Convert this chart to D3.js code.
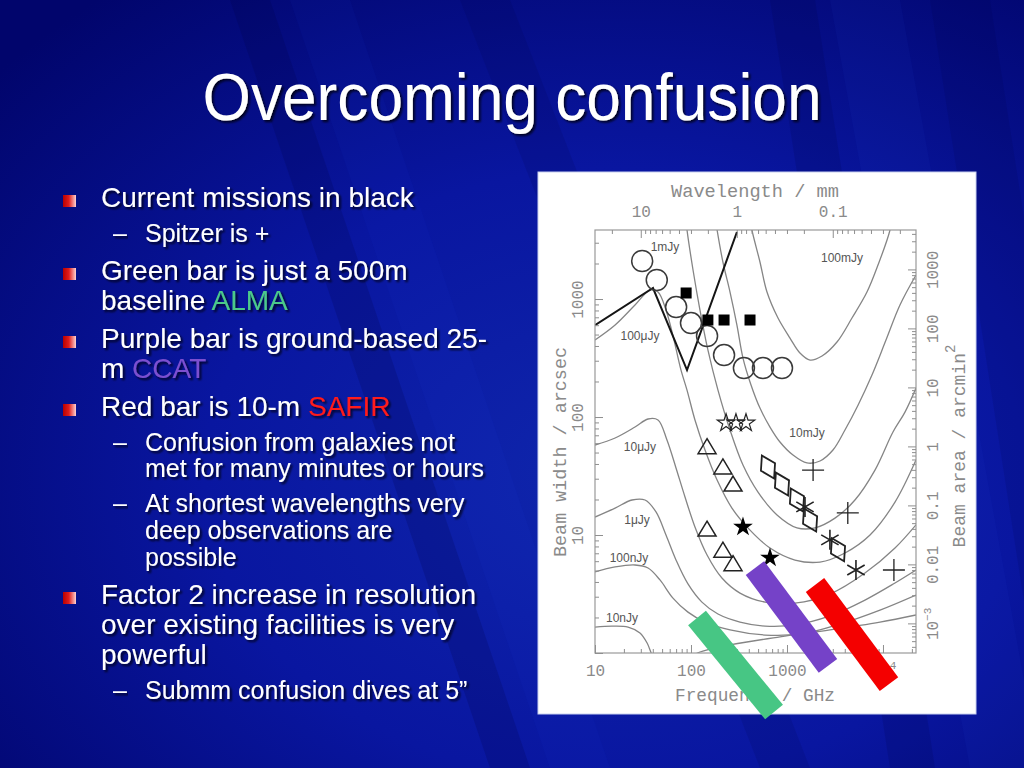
<!DOCTYPE html>
<html>
<head>
<meta charset="utf-8">
<title>Overcoming confusion</title>
<script src="https://cdn.jsdelivr.net/npm/d3@7"></script>
<style>
  body { margin: 0; background: #02086e; }
  svg { display: block; }
</style>
</head>
<body>
<svg id="slide" width="1024" height="768"></svg>
<script>
// confusion contours, traced as [frequency / GHz, beam width / arcsec]
const levels = ['100mJy', '10mJy', '1mJy', '100\u03bcJy', '10\u03bcJy', '1\u03bcJy', '100nJy', '10nJy'];
const c100mJy = [[392,5680],[431,3846],[523,2060],[619,1146],[806,690],[1075,467],[1365,349],[1738,304],[2317,329],[3318,432],[4753,690],[6810,1146],[8872,1941],[11830,3846],[12710,5680]];
const c10mJy = [[174,5680],[187,3846],[215,2060],[255,1146],[301,602],[348,316],[422,187],[523,119],[665,82.2],[845,61.4],[1155,47.6],[1615,40.8],[2207,42.4],[3013,52.5],[4018,77.6],[5495,126],[7680,227],[10750,449],[15030,889],[22080,1597]];
const c1mJy = [[86.6,5680],[90.9,3846],[105,1762],[124,807],[150,370],[191,169],[255,77.6],[348,39.2],[499,23.1],[787,14.8],[1271,11.5],[1958,11.5],[3162,13.9],[5104,19.8],[8254,35.5],[12710,74.6],[16950,110],[22080,176]];
const c100uJy = [[10,449],[16.2,602],[26.1,889],[37.4,1192],[45.3,1146],[54.9,807],[66.5,449],[78.7,250],[90.9,169],[110,94.4],[140,52.5],[187,29.2],[267,16.9],[412,11],[665,7.76],[1211,6.14],[2207,5.9],[4018,7.04],[7328,10],[13340,19],[22080,43.2]];
const c10uJy = [[10,57.9],[16.2,66.4],[26.1,82.2],[35.7,96.2],[45.3,94.4],[56.2,63.8],[69.8,37],[86.6,21],[110,11.7],[147,6.77],[210,4.32],[324,3.22],[590,2.7],[1211,2.65],[2805,3.16],[6494,4.76],[13340,7.76],[22080,12.2]];
const c1uJy = [[10,14.2],[16.2,16.9],[24.3,19.8],[33.2,19.8],[43.2,15.7],[54.9,10],[69.8,6.14],[93,3.85],[130,2.7],[191,2.14],[324,1.83],[590,1.69],[1211,1.73],[2805,2.06],[6494,2.81],[13340,3.92],[22080,5.05]];
const c100nJy = [[10,4.86],[16.2,5.36],[26.1,5.57],[35.7,5.25],[47.5,4.16],[64.9,2.92],[93,2.22],[140,1.83],[255,1.57],[590,1.42],[1365,1.45],[3565,1.76],[9311,2.31],[22080,3.1]];
const c10nJy = [[10,1.66],[15,1.69],[22.1,1.66],[29.4,1.48],[34.8,1.22],[39.3,0.96],[47.5,0.69],[68.1,0.59],[97.7,0.91],[124,1.02],[255,1.17],[845,1.37],[2805,1.57],[9311,1.83],[22080,2.1]];
const contours = [c100mJy, c10mJy, c1mJy, c100uJy, c10uJy, c1uJy, c100nJy, c10nJy];
const levelLabelAt = [[3741,2225],[1615,73.2],[53.6,2760],[29.4,486],[29.4,55.7],[27.4,13.4],[22.6,6.38],[19.1,1.98]];

// facilities
const bolometerLine = [[10,600],[40.2,1240],[90.9,250],[301,3700]];
const openCircles = [[31,2100],[44,1450],[70,855],[100,626],[147,486],[221,335],[356,260],[562,260],[887,260]];
const filledSquares = [[89,1125],[150,664],[221,664],[412,664]];
const openStars = [[232,89],[294,89],[374,89]];
const filledStars = [[348,11.7],[665,6.4]];
const openTriangles = [[147,55],[215,37],[274,26.5],[147,11],[215,7.3],[274,5.6]];
const openDiamonds = [[634,37.7],[887,27],[1270,19.8],[1740,13.4],[3400,7.5]];
const asterisks = [[1540,17.3],[2800,9.1],[5230,5.05]];
const spitzerPlus = [[1870,35.5],[4300,15.4],[13000,5.05]];

// future facilities as bars: [start, end]
const almaBar = [[115.5,1.98],[733,0.316]];
const ccatBar = [[464,5.25],[2673,0.776]];
const safirBar = [[1958,3.77],[11550,0.546]];

// axis ticks
const freqMajor = [10, 100, 1000, 10000];
const freqLabels = ['10', '100', '1000', '10^4'];
const waveMajor = [10, 1, 0.1];
const waveLabels = ['10', '1', '0.1'];
const beamMajor = [1, 10, 100, 1000];
const beamLabels = ['', '10', '100', '1000'];
const areaMajor = [0.001, 0.01, 0.1, 1, 10, 100, 1000];
const areaLabels = ['10^\u22123', '0.01', '0.1', '1', '10', '100', '1000'];

// slide text
const title = 'Overcoming confusion';
const bulletLines = [
  {lvl: 1, y: 207, mark: true, parts: [['Current missions in black']]},
  {lvl: 2, y: 242, mark: true, parts: [['Spitzer is +']]},
  {lvl: 1, y: 280, mark: true, parts: [['Green bar is just a 500m']]},
  {lvl: 1, y: 310, mark: false, parts: [['baseline '], ['ALMA', '#4cc98a']]},
  {lvl: 1, y: 348, mark: true, parts: [['Purple bar is ground-based 25-']]},
  {lvl: 1, y: 378, mark: false, parts: [['m '], ['CCAT', '#7b4fd0']]},
  {lvl: 1, y: 416, mark: true, parts: [['Red bar is 10-m '], ['SAFIR', '#ff1a1a']]},
  {lvl: 2, y: 451, mark: true, parts: [['Confusion from galaxies not']]},
  {lvl: 2, y: 477, mark: false, parts: [['met for many minutes or hours']]},
  {lvl: 2, y: 512, mark: true, parts: [['At shortest wavelengths very']]},
  {lvl: 2, y: 539, mark: false, parts: [['deep observations are']]},
  {lvl: 2, y: 566, mark: false, parts: [['possible']]},
  {lvl: 1, y: 604, mark: true, parts: [['Factor 2 increase in resolution']]},
  {lvl: 1, y: 634, mark: false, parts: [['over existing facilities is very']]},
  {lvl: 1, y: 664, mark: false, parts: [['powerful']]},
  {lvl: 2, y: 699, mark: true, parts: [['Submm confusion dives at 5\u201d']]}
];

const svg = d3.select('#slide');
const defs = svg.append('defs');

// background
let bg = defs.append('radialGradient').attr('id', 'bg')
  .attr('cx', '60%').attr('cy', '62%').attr('r', '80%');
bg.append('stop').attr('offset', '0%').attr('stop-color', '#0f26ac');
bg.append('stop').attr('offset', '50%').attr('stop-color', '#0916a0');
bg.append('stop').attr('offset', '100%').attr('stop-color', '#01056c');
svg.append('rect').attr('width', 1024).attr('height', 768).attr('fill', 'url(#bg)');

// soft diagonal streaks
const streaks = [[230, 40, 260, '#000040', 0.18], [290, 60, 260, '#3050ff', 0.05], [460, 50, 300, '#000040', 0.12],
                 [770, 45, 120, '#000040', 0.15], [830, 70, 140, '#4060ff', 0.05], [930, 60, 120, '#000040', 0.12]];
svg.append('g').selectAll('path').data(streaks).join('path')
  .attr('d', d => `M${d[0]},0 L${d[0] + d[1]},0 L${d[0] + d[1] + d[2]},768 L${d[0] + d[2]},768 Z`)
  .attr('fill', d => d[3]).attr('opacity', d => d[4]);

let sh = defs.append('filter').attr('id', 'shadow')
  .attr('x', '-5%').attr('y', '-20%').attr('width', '112%').attr('height', '150%');
sh.append('feDropShadow').attr('dx', 2).attr('dy', 2).attr('stdDeviation', 0.8)
  .attr('flood-color', '#000010').attr('flood-opacity', 0.85);

let bgrad = defs.append('linearGradient').attr('id', 'bulletGrad');
bgrad.append('stop').attr('offset', '0%').attr('stop-color', '#b80000');
bgrad.append('stop').attr('offset', '45%').attr('stop-color', '#e01c1c');
bgrad.append('stop').attr('offset', '100%').attr('stop-color', '#ffd2d2');

// title
svg.append('text')
  .attr('x', 512).attr('y', 120)
  .attr('text-anchor', 'middle')
  .attr('font-family', 'Liberation Sans, Arial, sans-serif')
  .attr('font-size', 66)
  .attr('textLength', 619)
  .attr('lengthAdjust', 'spacingAndGlyphs')
  .attr('fill', 'white')
  .attr('filter', 'url(#shadow)')
  .text(title);

// bullets
let gText = svg.append('g')
  .attr('font-family', 'Liberation Sans, Arial, sans-serif')
  .attr('fill', 'white');
bulletLines.forEach(l => {
  let tx = l.lvl == 1 ? 101 : 145;
  if (l.mark && l.lvl == 1)
    gText.append('rect').attr('x', 63).attr('y', l.y - 12).attr('width', 13).attr('height', 12)
      .attr('fill', 'url(#bulletGrad)');
  if (l.mark && l.lvl == 2)
    gText.append('text').attr('x', 113).attr('y', l.y).attr('font-size', 25)
      .attr('filter', 'url(#shadow)').text('\u2013');
  let t = gText.append('text').attr('x', tx).attr('y', l.y)
    .attr('font-size', l.lvl == 1 ? 28 : 25)
    .attr('filter', 'url(#shadow)');
  l.parts.forEach(p => t.append('tspan').attr('fill', p[1] || 'white').text(p[0]));
});

// chart panel
svg.append('rect').attr('x', 538).attr('y', 172).attr('width', 438).attr('height', 542)
  .attr('fill', 'white').attr('stroke', '#c8d0f0').attr('stroke-width', 1);

const frame = {l: 595, r: 916, t: 230, b: 653};
const x = d3.scaleLog().domain([10, 22080]).range([frame.l, frame.r]);
const y = d3.scaleLog().domain([1, 3846]).range([frame.b, frame.t]);
const toMM = f => 299.79 / f;
const toArea = w => 1.1331 * w * w / 3600;
const xw = d3.scaleLog().domain(x.domain().map(toMM)).range(x.range());
const ya = d3.scaleLog().domain(y.domain().map(toArea)).range(y.range());

defs.append('clipPath').attr('id', 'plotClip').append('rect')
  .attr('x', frame.l).attr('y', frame.t)
  .attr('width', frame.r - frame.l).attr('height', frame.b - frame.t);

let line = d3.line().x(d => x(d[0])).y(d => y(d[1])).curve(d3.curveCatmullRom.alpha(0.5));

let gPlot = svg.append('g').attr('clip-path', 'url(#plotClip)');
gPlot.selectAll('path.contour').data(contours).join('path')
  .attr('class', 'contour')
  .attr('d', line)
  .attr('fill', 'none')
  .attr('stroke', '#858585')
  .attr('stroke-width', 1.3);

gPlot.append('path')
  .attr('d', d3.line().x(d => x(d[0])).y(d => y(d[1]))(bolometerLine))
  .attr('fill', 'none')
  .attr('stroke', '#151515')
  .attr('stroke-width', 2);

svg.append('g').selectAll('text').data(levels).join('text')
  .attr('x', (d, i) => x(levelLabelAt[i][0]))
  .attr('y', (d, i) => y(levelLabelAt[i][1]))
  .attr('dy', '0.35em')
  .attr('text-anchor', 'middle')
  .attr('font-family', 'Liberation Sans, Arial, sans-serif')
  .attr('font-size', 12)
  .attr('fill', '#555')
  .text(d => d);

// markers
let gMk = svg.append('g').attr('stroke', '#222').attr('stroke-width', 1.5);
gMk.selectAll('circle').data(openCircles).join('circle')
  .attr('cx', d => x(d[0])).attr('cy', d => y(d[1])).attr('r', 10.5)
  .attr('fill', 'none').attr('stroke', '#3a3a3a');
gMk.selectAll('rect').data(filledSquares).join('rect')
  .attr('x', d => x(d[0]) - 5.5).attr('y', d => y(d[1]) - 5.5)
  .attr('width', 11).attr('height', 11).attr('fill', '#000').attr('stroke', 'none');
gMk.selectAll('path.ostar').data(openStars).join('path')
  .attr('class', 'ostar')
  .attr('d', d3.symbol(d3.symbolStar, 95))
  .attr('transform', d => `translate(${x(d[0])},${y(d[1])})`)
  .attr('fill', 'none').attr('stroke-width', 1.2);
gMk.selectAll('path.fstar').data(filledStars).join('path')
  .attr('class', 'fstar')
  .attr('d', d3.symbol(d3.symbolStar, 120))
  .attr('transform', d => `translate(${x(d[0])},${y(d[1])})`)
  .attr('fill', '#000').attr('stroke', 'none');
gMk.selectAll('path.tri').data(openTriangles).join('path')
  .attr('class', 'tri')
  .attr('d', 'M0,-9L9,6L-9,6Z')
  .attr('transform', d => `translate(${x(d[0])},${y(d[1])})`)
  .attr('fill', 'none');
gMk.selectAll('path.dia').data(openDiamonds).join('path')
  .attr('class', 'dia')
  .attr('d', 'M0,-13L8,0L0,13L-8,0Z')
  .attr('transform', d => `translate(${x(d[0])},${y(d[1])}) rotate(-28)`)
  .attr('fill', 'none').attr('stroke-width', 1.8);
gMk.selectAll('path.ast').data(asterisks).join('path')
  .attr('class', 'ast')
  .attr('d', 'M0,-10V10M-8.7,-5L8.7,5M-8.7,5L8.7,-5')
  .attr('transform', d => `translate(${x(d[0])},${y(d[1])})`)
  .attr('fill', 'none').attr('stroke-width', 1.6);
gMk.selectAll('path.plus').data(spitzerPlus).join('path')
  .attr('class', 'plus')
  .attr('d', 'M-11,0H11M0,-11V11')
  .attr('transform', d => `translate(${x(d[0])},${y(d[1])})`)
  .attr('fill', 'none').attr('stroke-width', 1.3);

// frame and axes
svg.append('rect')
  .attr('x', frame.l).attr('y', frame.t)
  .attr('width', frame.r - frame.l).attr('height', frame.b - frame.t)
  .attr('fill', 'none').attr('stroke', '#999').attr('stroke-width', 1.2);

const isMajor = v => Math.abs(Math.log10(v) - Math.round(Math.log10(v))) < 1e-6;

function logAxis(axisFn, scale, pos, major, labels, pad) {
  let g = svg.append('g').attr('transform', pos);
  g.append('g').call(axisFn(scale).tickValues(scale.ticks().filter(v => !isMajor(v))).tickSize(-4).tickFormat(''));
  g.append('g').call(axisFn(scale).tickValues(major).tickSize(-8).tickPadding(pad)
    .tickFormat((d, i) => labels[i]));
  g.selectAll('.domain').remove();
  g.selectAll('line').attr('stroke', '#8f8f8f').attr('stroke-width', 1);
  g.selectAll('text')
    .attr('font-family', 'Liberation Mono, Courier New, monospace')
    .attr('font-size', 16)
    .attr('fill', '#8a8a8a');
  // superscripts
  g.selectAll('text').filter(function () { return this.textContent.includes('^'); })
    .each(function () {
      let [b, e] = this.textContent.split('^');
      let t = d3.select(this).text(null);
      t.append('tspan').text(b);
      t.append('tspan').attr('dy', -7).attr('font-size', 11).text(e);
    });
  return g;
}

logAxis(d3.axisBottom, x, `translate(0,${frame.b})`, freqMajor, freqLabels, 12);
logAxis(d3.axisTop, xw, `translate(0,${frame.t})`, waveMajor, waveLabels, 13);
let gl = logAxis(d3.axisLeft, y, `translate(${frame.l},0)`, beamMajor, beamLabels, 12);
gl.selectAll('.tick text')
  .attr('transform', 'rotate(-90)').attr('x', 0).attr('y', -12).attr('dy', 0)
  .attr('text-anchor', 'middle');
let gr = logAxis(d3.axisRight, ya, `translate(${frame.r},0)`, areaMajor, areaLabels, 12);
gr.selectAll('.tick text')
  .attr('transform', 'rotate(-90)').attr('x', 0).attr('y', 22).attr('dy', 0)
  .attr('text-anchor', 'middle');

let gTitles = svg.append('g')
  .attr('font-family', 'Liberation Mono, Courier New, monospace')
  .attr('font-size', 18)
  .attr('fill', '#8a8a8a')
  .attr('text-anchor', 'middle');
gTitles.append('text').attr('x', 755).attr('y', 197)
  .attr('textLength', 168).attr('lengthAdjust', 'spacingAndGlyphs').text('Wavelength / mm');
gTitles.append('text').attr('x', 755).attr('y', 701)
  .attr('textLength', 160).attr('lengthAdjust', 'spacingAndGlyphs').text('Frequency / GHz');
gTitles.append('text').attr('transform', 'translate(566,452) rotate(-90)')
  .attr('textLength', 210).attr('lengthAdjust', 'spacingAndGlyphs').text('Beam width / arcsec');
let rt = gTitles.append('text').attr('transform', 'translate(965,446) rotate(-90)');
rt.append('tspan').text('Beam area / arcmin');
rt.append('tspan').attr('dy', -10).attr('font-size', 14).text('2');

// bars
const bars = [[almaBar, '#47c684'], [ccatBar, '#7542c8'], [safirBar, '#f40000']];
svg.append('g').selectAll('line').data(bars).join('line')
  .attr('x1', d => x(d[0][0][0])).attr('y1', d => y(d[0][0][1]))
  .attr('x2', d => x(d[0][1][0])).attr('y2', d => y(d[0][1][1]))
  .attr('stroke', d => d[1])
  .attr('stroke-width', 23);
</script>
</body>
</html>
